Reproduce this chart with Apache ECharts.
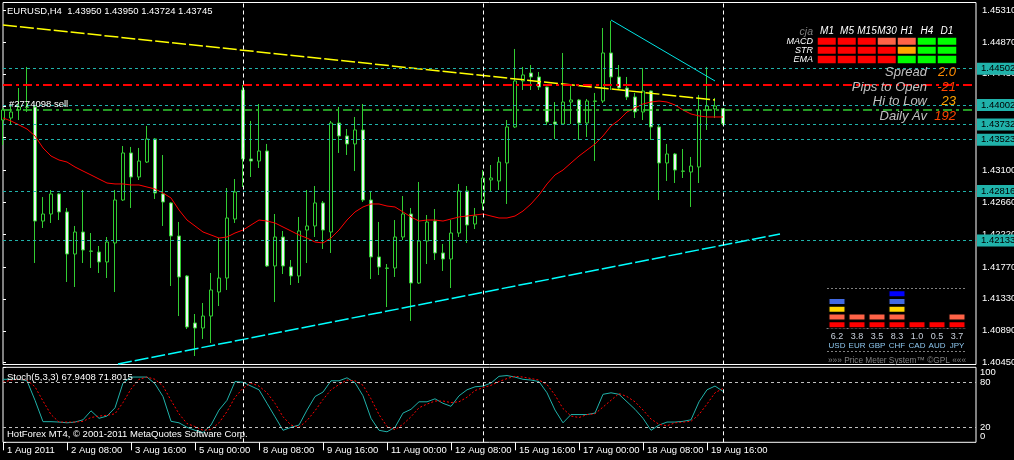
<!DOCTYPE html>
<html><head><meta charset="utf-8">
<script src="https://cdn.jsdelivr.net/npm/echarts@6/dist/echarts.min.js"></script>
<style>html,body{margin:0;padding:0;background:#000;}#c{width:1014px;height:460px;}</style>
</head><body><div id="c"></div>
<script>
// ---- candles (EURUSD H4, bar index 0 = 1 Aug 2011 00:00) ----
const OPEN = [
1.43794,1.43822,1.43932,1.43974,1.43974,1.42402,1.42499,1.42775,1.42527,1.41948,
1.42251,1.41989,1.41975,1.41838,1.42100,1.42692,1.43340,1.43009,1.43215,1.43533,
1.42775,1.42651,1.42196,1.41645,1.40997,1.40928,1.41093,1.41424,1.41617,1.42430,
1.44208,1.43257,1.43229,1.43367,1.41783,1.42182,1.41769,1.41645,1.42278,1.42334,
1.42651,1.42251,1.43753,1.43574,1.43464,1.43657,1.42692,1.41907,1.41755,1.41755,
1.42182,1.42499,1.41548,1.42127,1.42402,1.41962,1.41879,1.42237,1.42816,1.42361,
1.42651,1.42968,1.42954,1.43202,1.43698,1.44332,1.44442,1.44387,1.44249,1.43767,
1.43739,1.44042,1.44070,1.43753,1.44056,1.44056,1.44718,1.44387,1.44235,1.44111,
1.43905,1.44194,1.43698,1.43202,1.43326,1.43091,1.43078,1.43147,1.43932,1.43946,
1.43950];
const HIGH = [
1.43960,1.43987,1.44235,1.44525,1.44001,1.42733,1.42830,1.42788,1.42582,1.42334,
1.42830,1.42237,1.42058,1.42182,1.42830,1.43436,1.43423,1.43409,1.43712,1.43546,
1.43312,1.42664,1.42389,1.41658,1.41121,1.41273,1.41686,1.42168,1.42857,1.42981,
1.44277,1.43781,1.44015,1.43464,1.42499,1.42265,1.41865,1.42458,1.42830,1.42885,
1.42678,1.43781,1.43974,1.43670,1.43836,1.44015,1.42816,1.42389,1.41810,1.42416,
1.42747,1.42582,1.42940,1.42485,1.42568,1.42086,1.42416,1.42913,1.42885,1.42582,
1.43105,1.43174,1.43285,1.43794,1.44773,1.44525,1.44552,1.44456,1.44255,1.44042,
1.44718,1.44263,1.44084,1.44084,1.44167,1.45062,1.45159,1.44552,1.44387,1.44167,
1.44511,1.44200,1.43726,1.43464,1.43340,1.43395,1.43285,1.44139,1.44525,1.44098,
1.43950];
const LOW = [
1.43450,1.43739,1.43794,1.43905,1.41824,1.42306,1.42375,1.42416,1.41562,1.41493,
1.41824,1.41755,1.41686,1.41617,1.41424,1.42678,1.42582,1.42968,1.43202,1.42706,
1.42334,1.41507,1.41093,1.40914,1.40542,1.40777,1.40721,1.41231,1.41452,1.42375,
1.42871,1.43009,1.43133,1.41769,1.41286,1.41672,1.41521,1.41548,1.41824,1.42182,
1.42017,1.41962,1.43340,1.43312,1.43091,1.42664,1.41603,1.41658,1.41217,1.41631,
1.42141,1.41025,1.41535,1.41810,1.41865,1.41714,1.41479,1.42182,1.42100,1.42292,
1.42554,1.42816,1.42830,1.42637,1.43684,1.44208,1.44208,1.44208,1.43726,1.43533,
1.43730,1.43739,1.43519,1.43560,1.43229,1.44029,1.44208,1.44222,1.44070,1.43822,
1.43794,1.43519,1.42692,1.42954,1.42926,1.42995,1.42596,1.42926,1.43657,1.43822,
1.43724];
const CLOSE = [
1.43932,1.43905,1.43974,1.43970,1.42402,1.42499,1.42775,1.42527,1.41948,1.42251,
1.42003,1.41985,1.41838,1.42113,1.42692,1.43340,1.43009,1.43229,1.43533,1.42788,
1.42664,1.42196,1.41631,1.40942,1.40928,1.41093,1.41452,1.41617,1.42444,1.42802,
1.43257,1.43229,1.43367,1.41783,1.42182,1.41783,1.41645,1.42265,1.42334,1.42651,
1.42278,1.43753,1.43574,1.43464,1.43657,1.42692,1.41907,1.41769,1.41750,1.42182,
1.42499,1.41548,1.42127,1.42389,1.41962,1.41879,1.42237,1.42816,1.42347,1.42471,
1.42995,1.42995,1.43215,1.43698,1.44332,1.44415,1.44387,1.44249,1.43767,1.43739,
1.44042,1.44070,1.43753,1.44056,1.44052,1.44718,1.44387,1.44235,1.44111,1.43905,
1.44194,1.43698,1.43202,1.43326,1.43105,1.43088,1.43160,1.43932,1.43987,1.43987,
1.43745];
// ---- red moving average ----
const MA = [
1.43822,1.43781,1.43726,1.43670,1.43574,1.43409,1.43298,1.43243,1.43215,1.43147,
1.43091,1.43037,1.42981,1.42926,1.42913,1.42913,1.42899,1.42899,1.42871,1.42844,
1.42788,1.42720,1.42554,1.42416,1.42334,1.42251,1.42210,1.42168,1.42182,1.42237,
1.42278,1.42347,1.42416,1.42402,1.42375,1.42320,1.42265,1.42210,1.42168,1.42113,
1.42100,1.42168,1.42278,1.42416,1.42527,1.42596,1.42637,1.42637,1.42609,1.42596,
1.42527,1.42458,1.42402,1.42416,1.42416,1.42402,1.42430,1.42458,1.42471,1.42485,
1.42499,1.42471,1.42444,1.42444,1.42471,1.42540,1.42637,1.42761,1.42913,1.43037,
1.43105,1.43202,1.43298,1.43381,1.43464,1.43574,1.43712,1.43794,1.43905,1.43960,
1.44015,1.44042,1.44056,1.44042,1.44001,1.43932,1.43877,1.43850,1.43836,1.43836,
1.43836];
// ---- stochastic (5,3,3) ----
const STOCH_K = [
84,84,84,82,56,27.5,27.5,27,26,27,
30,42,32,35,46,79,87,87,87,78,
61,28,26,20,16,13,23,43,56,81,
80,75,70,52,34,16,20,23,43,61,
67,82,82,86,79.5,62,32,16,14,20,
39,44,54,54,58,52,48,62,70,74,
75,79,88,89,87,84,83,81,66,43,
26,37,37,37,39,64,66,64,54,44,
32,16,23,27,27,28,30,54,70,75,
67.9408];
const STOCH_D = [
80,83,84,83,74,55,37,27,27,27,
28,33,35,36,38,53,71,84,87,84,
75,56,38,25,21,16,17,26,41,60,
72,79,75,66,52,34,23,20,29,42,
57,70,77,83,82,76,58,37,21,17,
24,34,46,51,55,55,53,54,60,69,
73,76,81,85,88,87,85,83,77,63,
45,35,33,37,38,47,56,65,61,54,
43,31,24,22,26,27,28,37,51,66,
71.8015];
const STOCH_LEVELS = [20, 80];
const STOCH_EDGES = [0, 100];
// ---- axes ----
const TIME_TICK_BARS = [0,8,16,24,32,40,48,56,64,72,80,88];
const TIME_LABELS = ['1 Aug 2011','2 Aug 08:00','3 Aug 16:00','5 Aug 00:00','8 Aug 08:00','9 Aug 16:00',
  '11 Aug 00:00','12 Aug 08:00','15 Aug 16:00','17 Aug 00:00','18 Aug 08:00','19 Aug 16:00'];
const PRICE_TICKS = [1.45310,1.44870,1.44430,1.43990,1.43550,1.43100,1.42660,1.42220,1.41770,1.41330,1.40890,1.40450];
const WEEK_SEPARATOR_BARS = [30, 60, 90];
// ---- chart objects ----
const TEAL_LEVELS = [1.44502, 1.44002, 1.43732, 1.43523, 1.42816, 1.42133];
const OPEN_LEVEL = 1.44286;
const ORDER_LEVEL = 1.43932;
const ORDER_LABEL = '#2774098 sell';
const YELLOW_TREND = [[0, 1.45104], [89, 1.44070]];
const CYAN_SUPPORT = [[14.375, 1.40432], [97.125, 1.42224]];
const CYAN_RESIST = [[76, 1.45172], [89, 1.44332]];
// ---- cja panel ----
const CJA_COLS = ['M1','M5','M15','M30','H1','H4','D1'];
const CJA_ROWS = ['MACD','STR','EMA'];
const CJA_MACD = [0,0,0,1,1,3,3];
const CJA_STR  = [0,0,0,0,2,3,3];
const CJA_EMA  = [0,0,0,0,3,3,3];
const INFO_LABELS = ['Spread','Pips to Open','Hi to Low','Daily Av'];
const INFO_VALUES = ['2.0','-21','23','192'];
const INFO_COLORS = ['#FF8C00','#FF4500','#FFA500','#FF4500'];
// ---- price meter ----
const METER_CCY = ['USD','EUR','GBP','CHF','CAD','AUD','JPY'];
const METER_VAL = [6.2,3.8,3.5,8.3,1.0,0.5,3.7];
const METER_LEVELS = [4,2,2,5,1,1,2];
const METER_COLORS = ['#FF0000','#FF6347','#FFD700','#4169E1','#0000FF'];

const FONT = '"Liberation Sans", Arial, sans-serif';
const XMAX = 121.625;
const LAST = OPEN.length - 1;

const chart = echarts.init(document.getElementById('c'), null, {renderer:'canvas', width:1014, height:460});

const sepLines = WEEK_SEPARATOR_BARS.map(b => ({xAxis: b, lineStyle:{color:'#FFFFFF', type:[4,3], width:1}, label:{show:false}}));
const levelLines = TEAL_LEVELS.map(v => ({
  yAxis: v,
  lineStyle:{color:'#20B2AA', type:[3,3], width:1},
  label:{show:true, position:'end', formatter: v.toFixed(5), backgroundColor:'#20B2AA', color:'#000',
         padding:[1,4,1,4], fontSize:9.5, fontFamily:FONT, distance:1}
}));
levelLines.push({yAxis: OPEN_LEVEL, lineStyle:{color:'#FF0000', type:[9,4,3,4], width:2}, label:{show:false}});
levelLines.push({yAxis: ORDER_LEVEL, lineStyle:{color:'#32CD32', type:[9,4,3,4], width:1.5},
  label:{show:true, position:'insideStartTop', formatter: ORDER_LABEL, color:'#FFFFFF', fontSize:9.5, fontFamily:FONT, distance:[6,1]}});

const cjaData = [];
[CJA_MACD, CJA_STR, CJA_EMA].forEach((row, r) => row.forEach((v, c) => cjaData.push([c, r, v])));

function txt(x, y, text, fill, font, align) {
  return {type:'text', x:x, y:y, silent:true, z:100,
    style:{text:text, fill:fill, font:font, align:align||'left', textAlign:align||'left',
           verticalAlign:'middle', textVerticalAlign:'middle'}};
}
const graphics = [
  txt(7, 11, `EURUSD,H4  ${OPEN[LAST].toFixed(5)} ${HIGH[LAST].toFixed(5)} ${LOW[LAST].toFixed(5)} ${CLOSE[LAST].toFixed(5)}`, '#FFFFFF', '9.5px ' + FONT),
  txt(7, 377, `Stoch(5,3,3) ${STOCH_K[LAST].toFixed(4)} ${STOCH_D[LAST].toFixed(4)}`, '#FFFFFF', '9.5px ' + FONT),
  txt(7, 434, 'HotForex MT4, \u00A9 2001-2011 MetaQuotes Software Corp.', '#FFFFFF', '9.5px ' + FONT),
  txt(813, 32, 'cja', '#808080', 'italic 10.5px ' + FONT, 'right'),
  {type:'line', silent:true, shape:{x1:827, y1:288.5, x2:966, y2:288.5}, style:{stroke:'#808080', lineWidth:1, lineDash:[2,2]}},
  {type:'line', silent:true, shape:{x1:827, y1:351.5, x2:966, y2:351.5}, style:{stroke:'#808080', lineWidth:1, lineDash:[2,2]}}
];
const infoY = [72, 87, 101, 116];
INFO_LABELS.forEach((l, k) => {
  graphics.push(txt(927, infoY[k], l, '#C0C0C0', 'italic 13px ' + FONT, 'right'));
  graphics.push(txt(956, infoY[k], INFO_VALUES[k], INFO_COLORS[k], 'italic 13px ' + FONT, 'right'));
});

const meterSeries = METER_COLORS.map((col, k) => ({
  type:'bar', xAxisIndex:3, yAxisIndex:3, stack:'meter', barWidth:17.7, silent:true,
  data: METER_LEVELS.map(n => n > k ? 1 : '-'),
  itemStyle:{color:col, borderColor:'#000', borderWidth:1.35}
}));

const option = {
  backgroundColor:'#000000',
  animation:false,
  textStyle:{fontFamily:FONT},
  grid:[
    {left:3, top:2.5, width:973, height:362, show:true, borderColor:'#FFFFFF', borderWidth:1, backgroundColor:'transparent', containLabel:false, outerBoundsMode:'none'},
    {left:3, top:367.3, width:973, height:75, show:true, borderColor:'#FFFFFF', borderWidth:1, backgroundColor:'transparent', containLabel:false, outerBoundsMode:'none'},
    {left:817, top:37, width:140, height:27, show:false, containLabel:false, outerBoundsMode:'none'},
    {left:827, top:290, width:140, height:38.5, show:false, containLabel:false, outerBoundsMode:'none'}
  ],
  xAxis:[
    {type:'value', gridIndex:0, min:0, max:XMAX, show:false},
    {type:'value', gridIndex:1, min:0, max:XMAX, axisLine:{show:false}, splitLine:{show:false},
     axisTick:{show:true, customValues:TIME_TICK_BARS, length:8, lineStyle:{color:'#FFFFFF'}},
     axisLabel:{customValues:TIME_TICK_BARS, formatter: v => TIME_LABELS[TIME_TICK_BARS.indexOf(v)],
       align:'left', padding:[0,0,0,4], margin:3, color:'#FFFFFF', fontSize:9.5, fontFamily:FONT}},
    {type:'category', gridIndex:2, data:CJA_COLS, position:'top', axisLine:{show:false}, axisTick:{show:false}, splitLine:{show:false},
     axisLabel:{interval:0, color:'#FFFFFF', fontStyle:'italic', fontSize:10, margin:1, fontFamily:FONT}},
    {type:'category', gridIndex:3, data:METER_CCY, axisTick:{show:false},
     axisLine:{show:true, lineStyle:{color:'#808080', type:[2,2], width:1}},
     axisLabel:{margin:3, interval:0, formatter:(v, i) => `{v|${METER_VAL[i].toFixed(1)}}\n{c|${v}}`,
       rich:{v:{color:'#C8D0DC', fontSize:9, lineHeight:9.5, fontFamily:FONT}, c:{color:'#8EC8F0', fontSize:8, lineHeight:9.5, fontFamily:FONT}}},
     name:'\u00BB\u00BB\u00BB Price Meter System\u2122 \u00A9GPL \u00AB\u00AB\u00AB', nameLocation:'middle', nameGap:28,
     nameTextStyle:{color:'#808080', fontSize:8.3, fontFamily:FONT}}
  ],
  yAxis:[
    {type:'value', gridIndex:0, position:'right', min:1.404252, max:1.454133, axisLine:{show:false}, splitLine:{show:false},
     axisTick:{show:true, customValues:PRICE_TICKS, length:3, lineStyle:{color:'#FFFFFF'}},
     axisLabel:{customValues:PRICE_TICKS, formatter: v => v.toFixed(5), color:'#FFFFFF', fontSize:9.5, margin:6, fontFamily:FONT}},
    {type:'value', gridIndex:1, position:'right', min:0, max:100, axisLine:{show:false}, splitLine:{show:false},
     axisTick:{show:true, customValues:STOCH_EDGES.concat(STOCH_LEVELS), length:3, lineStyle:{color:'#FFFFFF'}},
     axisLabel:{customValues:STOCH_LEVELS, margin:4, color:'#FFFFFF', fontSize:9.5, fontFamily:FONT}},
    {type:'category', gridIndex:2, data:CJA_ROWS, inverse:true, axisLine:{show:false}, axisTick:{show:false}, splitLine:{show:false},
     axisLabel:{interval:0, color:'#FFFFFF', fontStyle:'italic', fontSize:9, margin:4, fontFamily:FONT}},
    {type:'value', gridIndex:3, min:0, max:5, show:false},
    {type:'value', gridIndex:1, position:'right', offset:0, min:0, max:100, axisLine:{show:false}, splitLine:{show:false}, axisTick:{show:false},
     axisLabel:{customValues:STOCH_EDGES, showMinLabel:true, showMaxLabel:true, margin:4, color:'#FFFFFF', fontSize:9.5, fontFamily:FONT,
       formatter: v => v === 100 ? '{t|100}' : '{b|0}',
       rich:{t:{padding:[11,0,0,0], color:'#FFFFFF', fontSize:9.5, fontFamily:FONT}, b:{padding:[0,0,11,0], color:'#FFFFFF', fontSize:9.5, fontFamily:FONT}}}}
  ],
  visualMap:[{type:'piecewise', show:false, seriesIndex:7, dimension:2,
    pieces:[{value:0, color:'#FF0000'},{value:1, color:'#FF6347'},{value:2, color:'#FFA500'},{value:3, color:'#00FF00'}]}],
  graphic: graphics,
  series:[
    {type:'candlestick', xAxisIndex:0, yAxisIndex:0, barWidth:4, silent:true,
     data: OPEN.map((o, i) => [i, o, CLOSE[i], LOW[i], HIGH[i]]),
     encode:{x:0, y:[1,2,3,4]},
     itemStyle:{color:'#000000', color0:'#F0F0F8', borderColor:'#32CD32', borderColor0:'#32CD32', borderWidth:1}},
    {type:'line', xAxisIndex:0, yAxisIndex:0, silent:true, showSymbol:false, symbol:'none',
     data: MA.map((v, i) => [i, v]), lineStyle:{color:'#FF0000', width:1},
     markLine:{silent:true, precision:5, symbol:['none','none'], animation:false, data: levelLines.concat(sepLines)}},
    {type:'line', xAxisIndex:0, yAxisIndex:0, silent:true, showSymbol:false, symbol:'none',
     data: YELLOW_TREND, lineStyle:{color:'#FFFF00', width:1.5, type:[14,3]}},
    {type:'line', xAxisIndex:0, yAxisIndex:0, silent:true, showSymbol:false, symbol:'none',
     data: CYAN_SUPPORT, lineStyle:{color:'#00FFFF', width:1.5, type:[14,3]}},
    {type:'line', xAxisIndex:0, yAxisIndex:0, silent:true, showSymbol:false, symbol:'none',
     data: CYAN_RESIST, lineStyle:{color:'#00E5E5', width:1}},
    {type:'line', xAxisIndex:1, yAxisIndex:1, silent:true, showSymbol:false, symbol:'none',
     data: STOCH_K.map((v, i) => [i, v]), lineStyle:{color:'#20B2AA', width:1},
     markLine:{silent:true, precision:5, symbol:['none','none'], animation:false,
       data: STOCH_LEVELS.map(v => ({yAxis:v, lineStyle:{color:'#C0C0C0', type:[3,3], width:1}, label:{show:false}})).concat(sepLines)}},
    {type:'line', xAxisIndex:1, yAxisIndex:1, silent:true, showSymbol:false, symbol:'none',
     data: STOCH_D.map((v, i) => [i, v]), lineStyle:{color:'#FF0000', width:1, type:[2,2]}},
    {type:'heatmap', xAxisIndex:2, yAxisIndex:2, silent:true, data: cjaData,
     itemStyle:{borderColor:'#000000', borderWidth:2}}
  ].concat(meterSeries)
};
chart.setOption(option);
</script>
</body></html>
